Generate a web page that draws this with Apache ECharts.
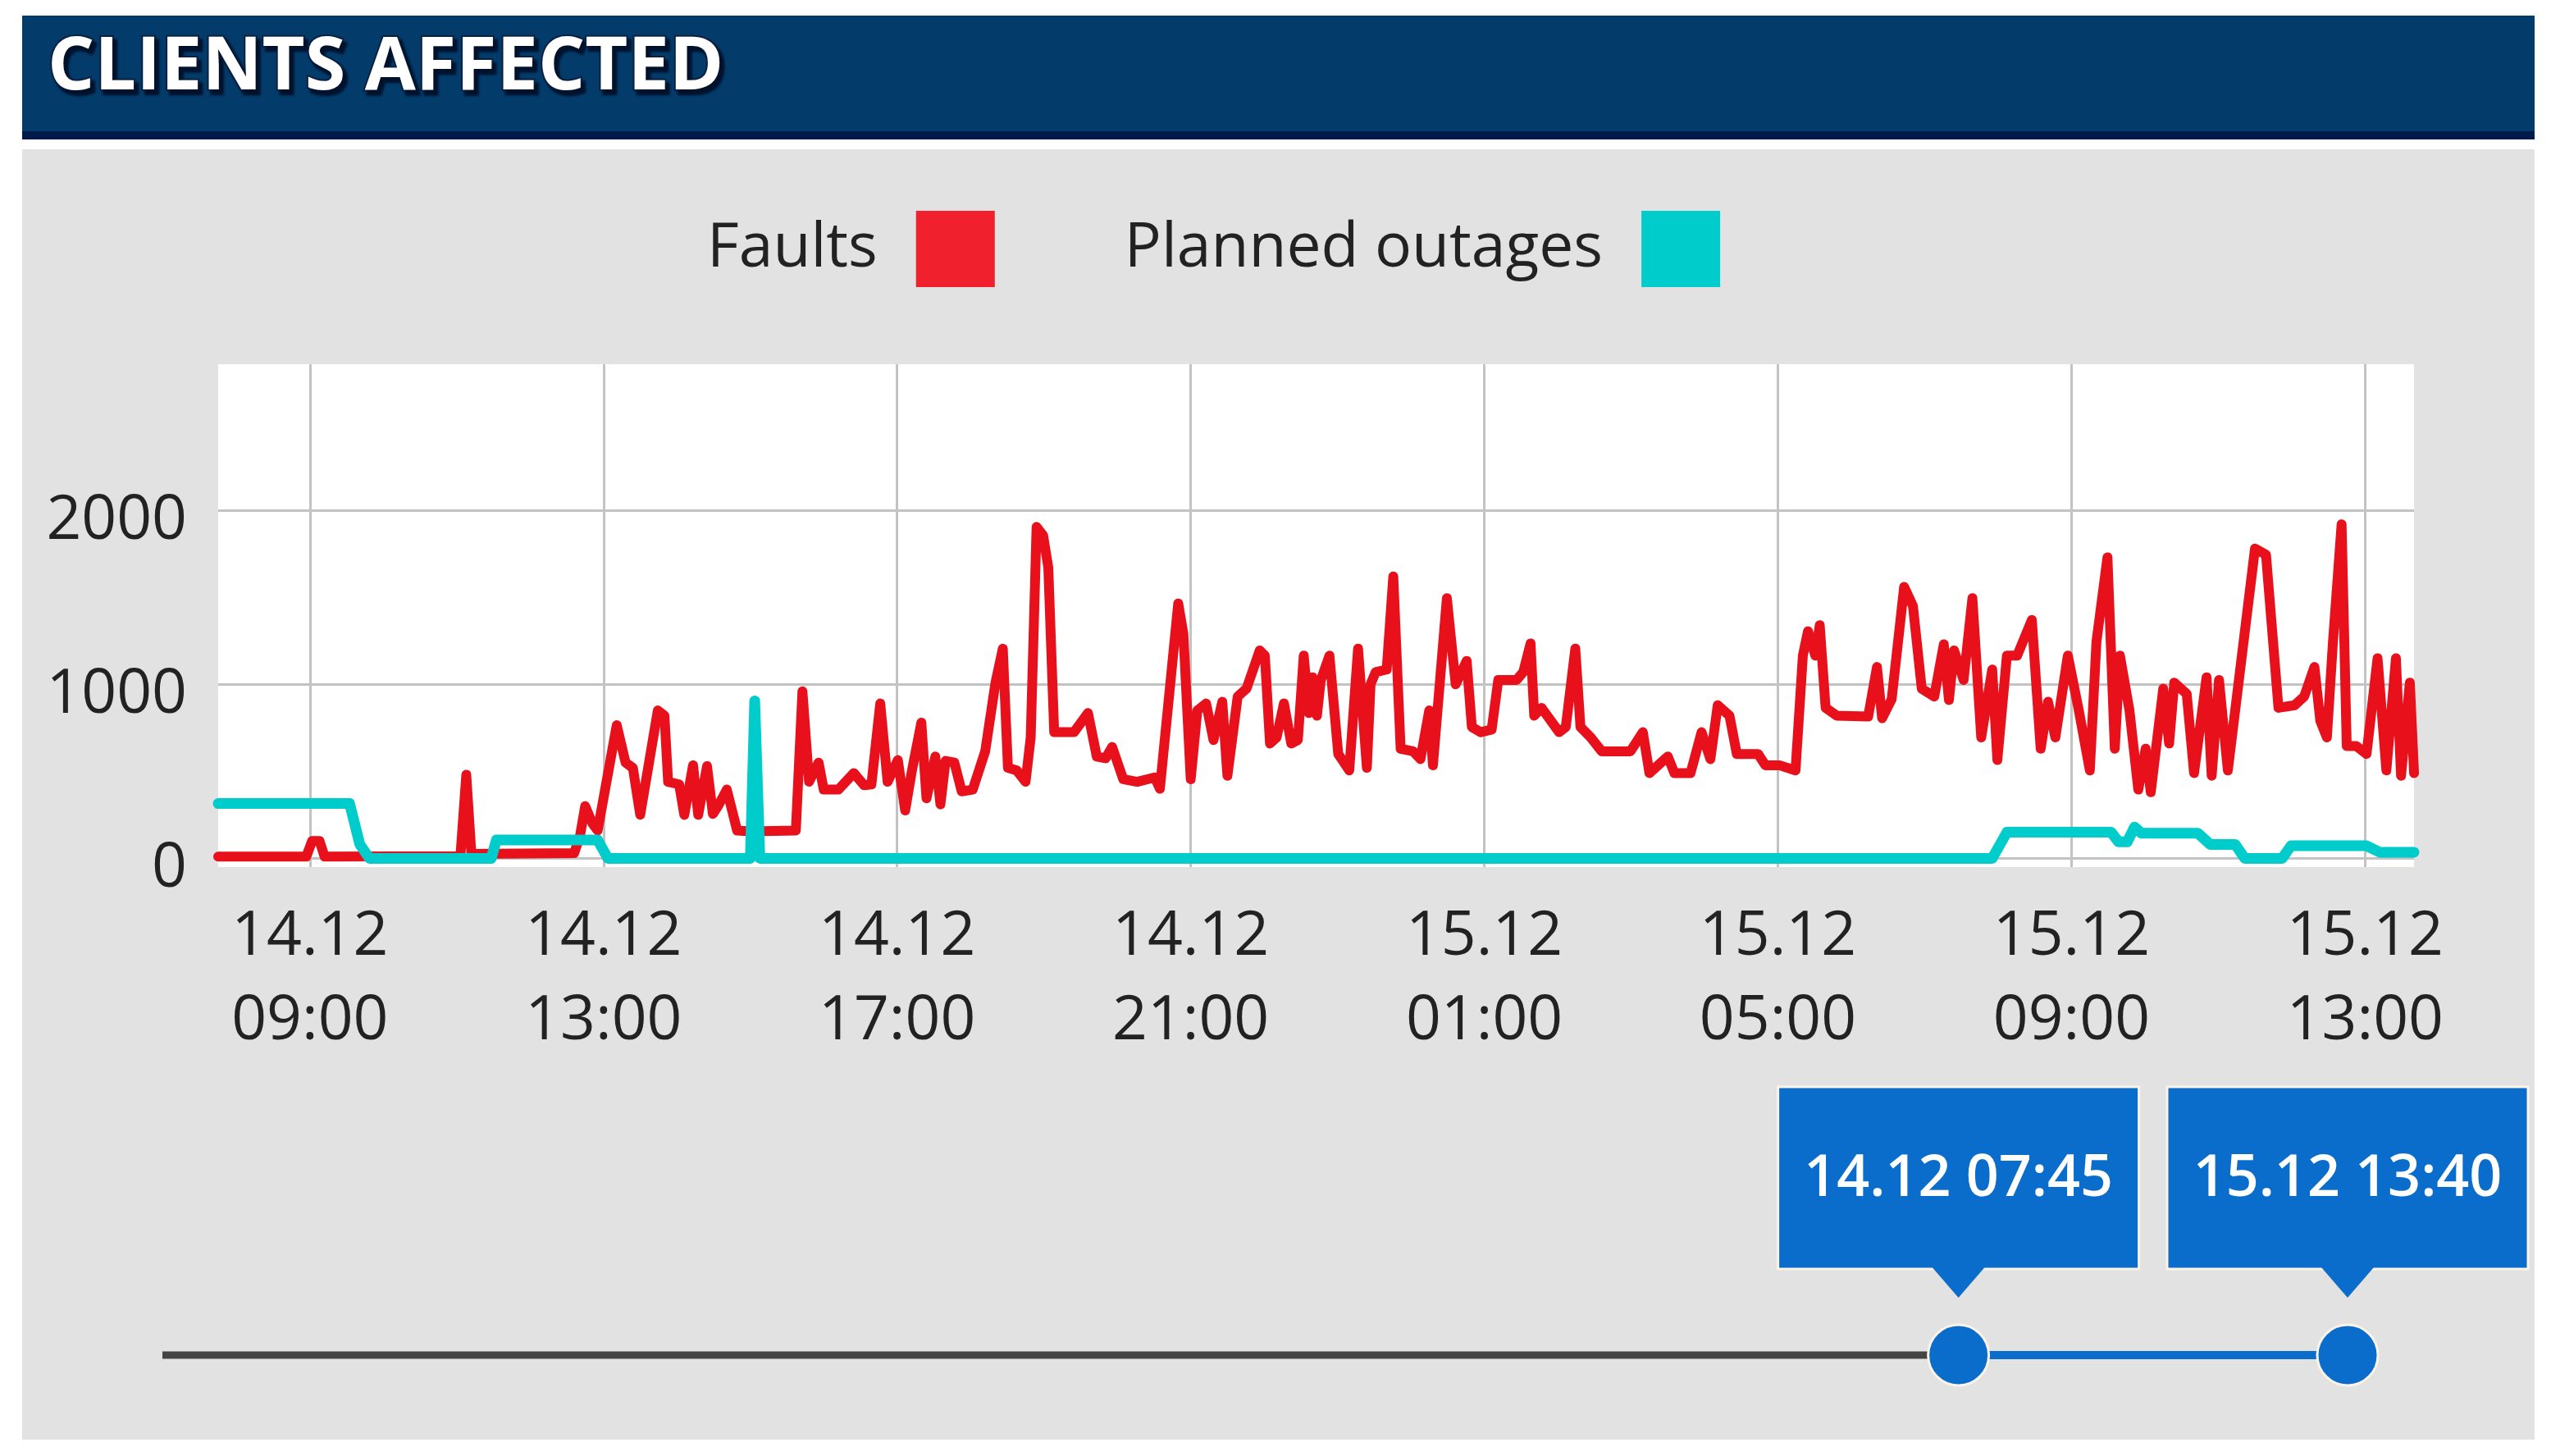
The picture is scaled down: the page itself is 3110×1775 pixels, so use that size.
<!DOCTYPE html>
<html>
<head>
<meta charset="utf-8">
<title>Clients affected</title>
<script src="https://cdn.jsdelivr.net/npm/echarts@6.0.0/dist/echarts.min.js"></script>
<style>
  html, body { margin: 0; padding: 0; background: #ffffff; }
  #main { width: 3110px; height: 1775px; }
</style>
</head>
<body>
<div id="main"></div>
<script>
// all times are hours counted from 14.12 00:00
var faultHours = [
  7.75, 8.95, 9.03, 9.13, 9.2, 11.05, 11.13, 11.2, 12.6, 12.68, 12.75, 12.85, 12.92,
  13.18, 13.3, 13.4, 13.5, 13.74, 13.83, 13.88, 14.03, 14.1, 14.22, 14.29, 14.41, 14.49,
  14.56, 14.68, 14.82, 15.0, 15.62, 15.71, 15.8, 15.93, 16.0, 16.2, 16.41, 16.55, 16.65,
  16.77, 16.87, 17.01, 17.11, 17.2, 17.33, 17.4, 17.52, 17.59, 17.66, 17.78, 17.88, 18.03,
  18.2, 18.34, 18.44, 18.51, 18.63, 18.75, 18.82, 18.9, 18.99, 19.06, 19.14, 19.41, 19.6,
  19.72, 19.84, 19.93, 20.08, 20.27, 20.51, 20.58, 20.83, 20.9, 21.0, 21.09, 21.21, 21.31,
  21.43, 21.5, 21.64, 21.76, 21.94, 22.01, 22.08, 22.17, 22.27, 22.37, 22.46, 22.54, 22.61,
  22.66, 22.72, 22.77, 22.89, 23.01, 23.16, 23.28, 23.4, 23.45, 23.52, 23.67, 23.76, 23.86,
  24.03, 24.13, 24.25, 24.3, 24.49, 24.61, 24.76, 24.83, 24.95, 25.1, 25.19, 25.44, 25.53,
  25.63, 25.68, 25.78, 26.02, 26.11, 26.24, 26.31, 26.45, 26.6, 26.99, 27.16, 27.25, 27.5,
  27.59, 27.81, 27.96, 28.08, 28.18, 28.34, 28.44, 28.73, 28.83, 29.02, 29.24, 29.34, 29.41,
  29.51, 29.57, 29.65, 29.8, 30.23, 30.35, 30.42, 30.55, 30.72, 30.84, 30.96, 31.13, 31.26,
  31.33, 31.4, 31.53, 31.65, 31.77, 31.92, 31.99, 32.12, 32.26, 32.46, 32.58, 32.68, 32.78,
  32.95, 33.1, 33.25, 33.34, 33.49, 33.59, 33.66, 33.79, 33.91, 34.01, 34.08, 34.25, 34.33,
  34.4, 34.57, 34.67, 34.84, 34.91, 35.01, 35.13, 35.5, 35.65, 35.82, 36.04, 36.17, 36.31,
  36.39, 36.48, 36.56, 36.68, 36.75, 36.88, 37.02, 37.17, 37.29, 37.42, 37.49, 37.61, 37.667
];
var faultValues = [
  10, 10, 100, 100, 10, 12, 480, 25, 30, 130, 300, 200, 160,
  765, 550, 520, 250, 850, 820, 440, 425, 250, 535, 250, 530, 255,
  300, 395, 160, 155, 160, 960, 440, 550, 395, 395, 490, 420, 425,
  890, 440, 565, 275, 500, 780, 345, 585, 310, 560, 550, 385, 395,
  615, 1010, 1205, 520, 505, 440, 695, 1905, 1855, 1670, 725, 725, 835,
  585, 575, 640, 455, 440, 465, 400, 1465, 1290, 455, 850, 890, 680,
  900, 475, 930, 975, 1195, 1165, 660, 695, 890, 660, 680, 1165, 835,
  1040, 820, 1020, 1165, 600, 505, 1205, 520, 1000, 1070, 1085, 1620, 630,
  615, 570, 850, 535, 1495, 1000, 1135, 755, 725, 740, 1025, 1025, 1070,
  1235, 820, 865, 725, 755, 1205, 755, 695, 615, 615, 725, 490, 585,
  490, 490, 725, 570, 880, 820, 600, 600, 535, 535, 505, 1165, 1305,
  1165, 1340, 865, 820, 815, 1100, 805, 915, 1560, 1450, 975, 930, 1230,
  910, 1195, 1025, 1495, 695, 1085, 565, 1165, 1165, 1370, 630, 900, 695,
  1165, 850, 505, 1245, 1730, 630, 1165, 850, 395, 630, 380, 975, 660,
  1010, 945, 490, 1040, 475, 1025, 505, 1780, 1745, 865, 880, 930, 1100,
  790, 695, 1230, 1920, 645, 645, 600, 1150, 505, 1150, 475, 1010, 490
];
var plannedHours = [
  7.75, 9.54, 9.68, 9.81, 11.47, 11.54, 12.92, 13.06, 15.0, 15.06, 15.13, 31.92, 32.12,
  33.54, 33.64, 33.76, 33.86, 33.95, 34.72, 34.89, 35.23, 35.36, 35.87, 35.99, 37.02, 37.2, 37.667
];
var plannedValues = [
  315, 315, 80, 0, 0, 105, 105, 0, 0, 905, 0, 0, 150,
  150, 95, 95, 180, 145, 145, 80, 80, 0, 0, 72, 72, 35, 35
];
var xTickHours = [9, 13, 17, 21, 25, 29, 33, 37];
var yTicks = [0, 1000, 2000];
var viewFrom = 7.75;            // 14.12 07:45
var viewTo = 37 + 40 / 60;      // 15.12 13:40
var sliderFrom = viewTo - 7 * 24;

function pad(n) {
  return n < 10 ? "0" + n : "" + n;
}
function hourLabel(h, sep) {
  var mins = Math.round(h * 60);
  var day = 14 + Math.floor(mins / 1440);
  var m = mins % 1440;
  return day + ".12" + sep + pad(Math.floor(m / 60)) + ":" + pad(m % 60);
}

var faultData = faultHours.map(function (h, i) { return [h, faultValues[i]]; });
var plannedData = plannedHours.map(function (h, i) { return [h, plannedValues[i]]; });

// range slider under the chart (drawn by hand)
var trackLeft = 198, trackRight = 2862, trackY = 1652;
function sliderX(h) {
  return trackLeft + (h - sliderFrom) / (viewTo - sliderFrom) * (trackRight - trackLeft);
}
var fromX = sliderX(viewFrom);
var toX = sliderX(viewTo);
var blue = "#0a6dcc";

function callout(cx, label) {
  return [
    {
      type: "rect", z: 50,
      shape: { x: cx - 220, y: 1325, width: 440, height: 222 },
      style: { fill: blue, stroke: "#fbf3e6", lineWidth: 3 }
    },
    {
      type: "polygon", z: 51,
      shape: { points: [[cx - 32, 1545], [cx + 32, 1545], [cx, 1582]] },
      style: { fill: blue }
    },
    {
      type: "text", z: 52,
      style: {
        text: label, x: cx, y: 1438,
        fill: "#ffffff", font: '600 70px "Open Sans"',
        align: "center", verticalAlign: "middle",
        textAlign: "center", textVerticalAlign: "middle"
      }
    }
  ];
}

var graphics = [
  { type: "rect", z: -10, shape: { x: 27, y: 182, width: 3063, height: 1573 }, style: { fill: "#e2e2e2" } },
  { type: "rect", z: -10, shape: { x: 27, y: 19, width: 3063, height: 141 }, style: { fill: "#033c6a" } },
  { type: "rect", z: -10, shape: { x: 27, y: 160, width: 3063, height: 10 }, style: { fill: "#001a4c" } },
  { type: "line", z: 40, shape: { x1: trackLeft, y1: trackY, x2: fromX, y2: trackY }, style: { stroke: "#444444", lineWidth: 9 } },
  { type: "line", z: 41, shape: { x1: fromX, y1: trackY, x2: toX, y2: trackY }, style: { stroke: blue, lineWidth: 10 } },
  { type: "circle", z: 42, shape: { cx: fromX, cy: trackY, r: 37 }, style: { fill: blue, stroke: "#fbf3e6", lineWidth: 3 } },
  { type: "circle", z: 42, shape: { cx: toX, cy: trackY, r: 37 }, style: { fill: blue, stroke: "#fbf3e6", lineWidth: 3 } }
].concat(callout(fromX, hourLabel(viewFrom, " ")), callout(toX, hourLabel(viewTo, " ")));

var myChart = echarts.init(document.getElementById("main"));
myChart.setOption({
  animation: false,
  title: {
    text: "CLIENTS AFFECTED",
    left: 58,
    top: 38,
    padding: 0,
    textStyle: {
      color: "#ffffff",
      fontFamily: "Open Sans",
      fontWeight: "bold",
      fontSize: 90,
      lineHeight: 90,
      textBorderColor: "#0b1f3f",
      textBorderWidth: 4,
      textShadowColor: "#00112b",
      textShadowBlur: 3,
      textShadowOffsetX: 4,
      textShadowOffsetY: 5
    }
  },
  legend: {
    left: 857,
    top: 252,
    align: "right",
    icon: "rect",
    itemWidth: 96,
    itemHeight: 93,
    itemGap: 158,
    selectedMode: false,
    textStyle: {
      fontFamily: "Open Sans",
      fontSize: 75,
      color: "#222222",
      padding: [0, 42, 0, 0]
    },
    data: [
      { name: "Faults", itemStyle: { color: "#f0202d" } },
      { name: "Planned outages", itemStyle: { color: "#00cccc" } }
    ]
  },
  grid: {
    left: 266,
    right: 167,
    top: 444,
    bottom: 718,
    show: true,
    backgroundColor: "#ffffff",
    borderWidth: 0
  },
  xAxis: {
    type: "value",
    min: viewFrom,
    max: viewTo,
    axisLine: { show: false },
    axisTick: { show: false, customValues: xTickHours },
    axisLabel: {
      customValues: xTickHours,
      formatter: function (v) { return hourLabel(v, "\n"); },
      fontFamily: "Open Sans",
      fontSize: 75,
      lineHeight: 103,
      color: "#222222",
      margin: 34
    },
    splitLine: { show: true, lineStyle: { color: "#c3c3c3", width: 3 } }
  },
  yAxis: {
    type: "value",
    min: -50,
    max: 2840,
    axisLine: { show: false },
    axisTick: { show: false, customValues: yTicks },
    axisLabel: {
      customValues: yTicks,
      formatter: function (v) { return String(v); },
      fontFamily: "Open Sans",
      fontSize: 75,
      lineHeight: 75,
      color: "#222222",
      margin: 38,
      verticalAlign: "top",
      padding: [-24, 0, 0, 0]
    },
    splitLine: { show: true, lineStyle: { color: "#c3c3c3", width: 3 } }
  },
  series: [
    {
      name: "Faults",
      type: "line",
      data: faultData,
      showSymbol: false,
      symbol: "none",
      z: 2,
      itemStyle: { color: "#e8101b" },
      lineStyle: { color: "#e8101b", width: 12, join: "round", cap: "round" }
    },
    {
      name: "Planned outages",
      type: "line",
      data: plannedData,
      showSymbol: false,
      symbol: "none",
      z: 3,
      itemStyle: { color: "#00cccc" },
      lineStyle: { color: "#00cccc", width: 13, join: "round", cap: "round" }
    }
  ],
  graphic: graphics
});
</script>
</body>
</html>
